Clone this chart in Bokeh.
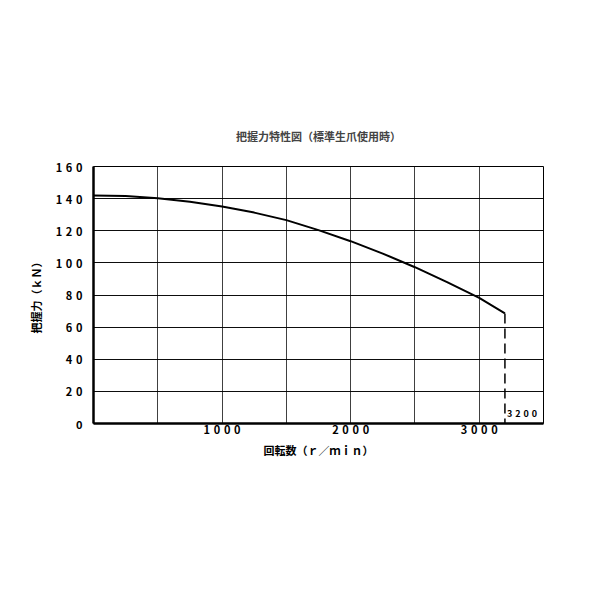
from bokeh.embed import file_html
from bokeh.models import FixedTicker, Label
from bokeh.plotting import figure
from bokeh.resources import INLINE

# speed (r/min) vs gripping force (kN)
speed = [0, 250, 500, 750, 1000, 1250, 1500, 1750, 2000, 2250, 2500, 2750, 3000, 3200]
force = [142, 141.6, 140.3, 138.1, 135.1, 131.3, 126.6, 120.4, 113.5, 105.8, 97.3, 88.0, 78.2, 68.5]

x_ticks = [1000, 2000, 3000]
y_ticks = [0, 20, 40, 60, 80, 100, 120, 140, 160]
x_grid = [0, 500, 1000, 1500, 2000, 2500, 3000, 3500]
max_speed = 3200

FONT = "Noto Sans CJK JP"
GAP = "\u2004"  # three-per-em space between digits


def spaced(n):
    """Tick text with a gap between the digits, as printed on the sheet"""
    return GAP.join(str(n))


p = figure(frame_width=450, frame_height=257,
           min_border_left=93, min_border_right=49,
           min_border_top=166, min_border_bottom=169,
           x_range=(0, 3500), y_range=(0, 160),
           output_backend="svg", toolbar_location=None, tools="",
           title="把握力特性図（標準生爪使用時）")
p.title.align = "center"
p.title.text_font = FONT
p.title.text_font_size = "11px"
p.title.text_font_style = "bold"
p.title.standoff = 45

p.outline_line_color = "black"
p.outline_line_width = 1

# grid
p.xaxis.ticker = FixedTicker(ticks=x_ticks)
p.yaxis.ticker = FixedTicker(ticks=y_ticks)
p.xgrid.ticker = FixedTicker(ticks=x_grid)
p.xgrid.grid_line_color = "black"
p.ygrid.grid_line_color = "black"
p.xgrid.grid_line_alpha = 0.75
p.ygrid.grid_line_alpha = 0.95

for ax in (p.xaxis, p.yaxis):
    ax.axis_line_color = "black"
    ax.axis_line_width = 2.5
    ax.major_tick_line_color = None
    ax.minor_tick_line_color = None
    ax.major_label_text_font = FONT
    ax.major_label_text_font_size = "11px"
    ax.major_label_text_font_style = "bold"
    ax.major_label_text_color = "black"
    ax.axis_label_text_font = FONT
    ax.axis_label_text_font_size = "11px"
    ax.axis_label_text_font_style = "bold"
    ax.axis_label_text_color = "black"

p.xaxis.major_label_overrides = {t: spaced(t) for t in x_ticks}
p.yaxis.major_label_overrides = {t: spaced(t) for t in y_ticks}
p.xaxis.major_label_standoff = -9
p.yaxis.major_label_standoff = 5
p.xaxis.axis_label = "回転数（ｒ／ｍｉｎ）"
p.yaxis.axis_label = "把握力（ｋＮ）"
p.xaxis.axis_label_standoff = 2
p.yaxis.axis_label_standoff = 9

p.line(speed, force, line_color="black", line_width=2)

# limit at maximum speed
p.line([max_speed, max_speed], [force[-1], 0], line_color="black",
       line_width=1.5, line_dash="10 5")
p.add_layout(Label(x=max_speed, y=0, x_offset=2, y_offset=4, text=spaced(max_speed),
                   text_font=FONT, text_font_size="9px", text_font_style="bold",
                   text_color="black"))

open("out.html", "w").write(file_html(p, INLINE))
